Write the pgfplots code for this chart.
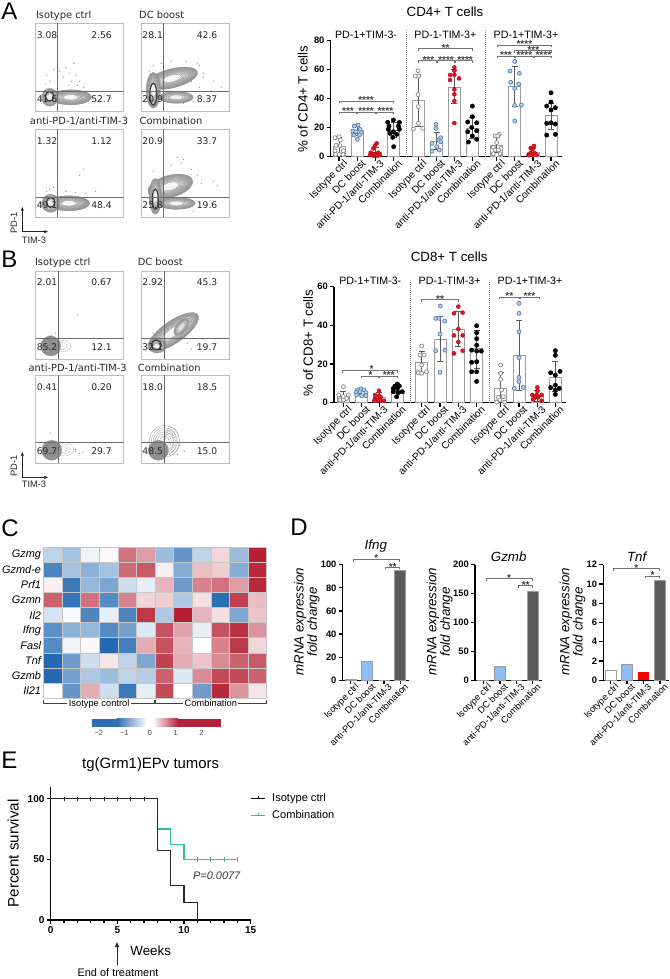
\documentclass[border=0pt]{standalone}
\usepackage{pgfplots}
\pgfplotsset{compat=1.18}
\usepackage{fontspec}
\setmainfont{Liberation Sans}
\newfontfamily\djv{DejaVu Sans}
\usetikzlibrary{arrows.meta}
\newcommand{\fs}[1]{\fontsize{#1}{#1}\selectfont}
\definecolor{isoE}{HTML}{8A8A8A}
\definecolor{dcF}{HTML}{B4CDEA}
\definecolor{dcE}{HTML}{5F83AD}
\definecolor{redF}{HTML}{E8101C}
\definecolor{barE}{HTML}{9C9C9C}
\definecolor{boxE}{HTML}{BDBDBD}
\definecolor{gateC}{HTML}{6A6A6A}
\definecolor{dBlue}{HTML}{8DBBF3}
\definecolor{dGrey}{HTML}{5A5A5A}
\definecolor{grn}{HTML}{2EC48F}
\definecolor{hB}{HTML}{2F6DB1}
\definecolor{hR}{HTML}{B2223A}
\pgfplotsset{
 every axis title shift=0pt,
 brk/.style={black!55,line width=.55pt,forget plot,sharp plot,mark=none},
 sep/.style={black!45,densely dotted,line width=.5pt,forget plot,sharp plot,mark=none},
 barp/.style={ybar,bar shift=0pt,draw=barE,fill=white,line width=.75pt,forget plot},
 errp/.style={forget plot,draw=none,mark=none,error bars/.cd,y dir=both,y explicit,
   error bar style={black!65,line width=.55pt},error mark options={rotate=90,mark size=2.2pt,black!65,line width=.55pt}},
 pIso/.style={only marks,forget plot,mark=*,mark size=1.5pt,mark options={fill=white,draw=isoE,line width=.55pt}},
 pDC/.style={only marks,forget plot,mark=*,mark size=1.5pt,mark options={fill=dcF,draw=dcE,line width=.55pt}},
 pRed/.style={only marks,forget plot,mark=*,mark size=1.5pt,mark options={fill=redF,draw=redF!70!black,line width=.3pt}},
 pBlk/.style={only marks,forget plot,mark=*,mark size=1.6pt,mark options={fill=black,draw=black}},
 baseax/.style={scale only axis,clip=false,axis x line=bottom,axis y line=left,
   axis line style={black,line width=1pt,-},tick align=outside,
   tick style={black,line width=1pt},major tick length=3pt,
   /pgf/number format/assume math mode=true,
   y tick label style={font=\bfseries\fs{7}\selectfont,inner sep=1.5pt},
   every axis y label/.style={rotate=90,anchor=center,font=\fs{10},align=center}},
 catx/.style={x tick label style={rotate=45,anchor=north east,inner sep=0pt,font=\fs{#1},xshift=3pt,yshift=-1pt}},
 facsax/.style={scale only axis,width=66pt,height=66pt,xmin=0,xmax=88,ymin=0,ymax=88,
   xtick=\empty,ytick=\empty,axis line style={boxE,line width=.6pt}},
 gate/.style={gateC,line width=.65pt,forget plot,sharp plot,mark=none},
 dots/.style={only marks,forget plot,mark=*,mark size=.17pt,black!50,mark options={draw=none,fill=black!50}},
}
\tikzset{
 star/.style={anchor=south,inner sep=0pt,font=\bfseries\fs{7.5},black!75,yshift=-2.2pt},
 num/.style={inner sep=0pt,font=\djv\fs{6.9},black!85},
 flab/.style={inner sep=0pt,font=\djv\fs{7.4},black!85},
 hdr/.style={inner sep=0pt,font=\fs{8}},
 let/.style={inner sep=0pt,anchor=west,font=\fs{18}},
}
\newcommand{\br}[6]{%
 \addplot[brk] coordinates {(#1,#4)(#1,#3)(#2,#3)(#2,#4)};
 \node[star] at (axis cs:#6,#3) {#5};}
% optional: grey level of the centre of the blob
\newcommand{\blob}[7][0]{%
 \pgfplotsextra{\foreach \i in {#7,...,1}{%
  \pgfmathsetmacro\g{#1+(38-#1)*\i/#7}%
  \draw[black!45,fill=black!\g,line width=.22pt,rotate around={#6:(axis cs:#2,#3)}] (axis cs:#2,#3) ellipse [x radius={#4*.75pt*(.3+.7*\i/#7)},y radius={#5*.75pt*(.3+.7*\i/#7)}];}}}
\newcommand{\ring}[5]{%
 \pgfplotsextra{\draw[black!80,line width=.8pt,rotate around={#5:(axis cs:#1,#2)}] (axis cs:#1,#2) ellipse [x radius={#3*.75pt},y radius={#4*.75pt}];}}
\newcommand{\facs}[9]{%
\begin{axis}[facsax,at={(#1*.75pt,{(979-#2-88)*.75pt})},anchor=south west]
 #9
 \addplot[gate] coordinates {(#3,0)(#3,88)};
 \addplot[gate] coordinates {(0,#4)(88,#4)};
 \node[num] at (axis cs:11.4,76.5) {#5};
 \node[num] at (axis cs:65.8,76.5) {#6};
 \node[num] at (axis cs:11.4,12) {#7};
 \node[num] at (axis cs:65.8,12) {#8};
\end{axis}}
\pgfplotsset{colormap={heat}{rgb255=(27,100,175) rgb255=(255,255,255) rgb255=(178,24,43)}}
\begin{document}
\begin{tikzpicture}
\path[use as bounding box] (0,0) rectangle (501.75pt,734.25pt);

%% ---------- Panel A flow
\facs{35.7}{23.3}{21.6}{20}{3.08}{2.56}{41.6}{52.7}{
 \addplot[dots] coordinates {(24,40)(30,44)(34,38)(36,30)(28,34)(38,48)(14,30)(11,36)(18,42)(44,30)(22,26)(10,27)(33,26)(42,26)(48,24)(40,36)};
 \blob{35}{14}{21}{7.5}{0}{12}\blob{14}{14}{8}{9}{0}{7}\ring{14}{15}{4.3}{4.8}{0}}
\facs{141.3}{23.3}{22}{20}{28.1}{42.6}{20.9}{8.37}{
 \addplot[dots] coordinates {(50,30)(58,24)(62,34)(72,30)(58,46)(45,50)(30,50)(42,8)(52,10)(66,12)(80,24)(12,46)(8,40)(20,48)(56,48)(62,38)};
 \blob{35}{14}{17}{6}{0}{7}\blob{31}{33}{26}{9.5}{14}{12}\blob{12}{21}{7}{18}{0}{10}\ring{12}{17}{3.5}{11}{0}}
\facs{35.7}{129.3}{21.6}{20.3}{1.32}{1.12}{49.1}{48.4}{
 \addplot[dots] coordinates {(48,48)(44,42)(22,34)(14,28)(60,26)(30,26)(18,30)(40,25)(50,24)(11,26)};
 \blob{33}{14}{21}{7.5}{0}{12}\blob{15}{14}{9}{9}{0}{7}\ring{15}{15}{4.3}{4.8}{0}}
\facs{141.3}{129.3}{22}{20.3}{20.9}{33.7}{25.8}{19.6}{
 \addplot[dots] coordinates {(30,52)(40,54)(50,48)(56,42)(60,34)(76,32)(72,36)(42,58)(22,50)(12,46)(46,30)(70,14)(52,6)(36,60)(22,72)};
 \blob{35}{14}{19}{6}{0}{9}\blob{29}{31}{23}{11}{15}{12}\blob{14}{21}{6}{18}{0}{10}\ring{14}{18}{3}{10}{0}}

%% ---------- Panel B flow
\facs{35.7}{271}{22.6}{21}{2.01}{0.67}{85.2}{12.1}{
 \addplot[dots] coordinates {(42,44)(16,24)(14,23)(20,26)};
 \pgfplotsextra{\draw[black!30,line width=.22pt] (axis cs:27,13) ellipse [x radius={8*.75pt},y radius={5.5*.75pt}];\draw[black!30,line width=.22pt] (axis cs:26,13) ellipse [x radius={5.5*.75pt},y radius={3.8*.75pt}];}
 \blob[45]{15}{13}{10}{10}{0}{12}}
\facs{141.3}{271}{23}{21}{2.92}{45.3}{32.1}{19.7}{
 \addplot[dots] coordinates {(50,10)(46,16)(56,14)(20,30)(12,26)};
 \blob{32}{27}{30}{11}{35}{10}\blob{40}{32}{10}{5}{50}{3}\blob{16}{13}{9}{7}{0}{7}\ring{15}{14}{5}{5}{0}}
\facs{35.7}{375.3}{22.6}{21}{0.41}{0.20}{69.7}{29.7}{
 \addplot[dots] coordinates {(40,12)(44,10)(47,11)(15,30)(40,14)};
 \pgfplotsextra{\draw[black!30,line width=.22pt] (axis cs:29,14) ellipse [x radius={9*.75pt},y radius={6.5*.75pt}];\draw[black!30,line width=.22pt] (axis cs:28,14) ellipse [x radius={6.5*.75pt},y radius={4.6*.75pt}];\draw[black!30,line width=.22pt] (axis cs:27,14) ellipse [x radius={4.5*.75pt},y radius={3.2*.75pt}];}
 \blob[45]{16}{13}{10}{10}{0}{12}}
\facs{141.3}{375.3}{23}{21}{18.0}{18.5}{48.5}{15.0}{
 \addplot[dots] coordinates {(43,12)(36,9)(38,18)};
 \pgfplotsextra{\draw[black!35,line width=.22pt] (axis cs:30,22) ellipse [x radius={8*.75pt},y radius={14*.75pt}];\draw[black!35,line width=.22pt] (axis cs:29,22) ellipse [x radius={6*.75pt},y radius={11*.75pt}];\draw[black!35,line width=.22pt] (axis cs:28,22) ellipse [x radius={4.5*.75pt},y radius={8*.75pt}];}
 \pgfplotsextra{\foreach \r in {5,7,9,11,13,15}{\draw[black!40,line width=.22pt] (axis cs:23,22) ellipse [x radius={\r*.75pt},y radius={\r*1.05*.75pt}];}}
 \blob[45]{17}{13}{10}{10}{0}{12}}

%% ---------- Panel A bars
\begin{axis}[baseax,catx=7.6,at={(330.7*.75pt,{(979-156.7)*.75pt})},anchor=south west,width=173.25pt,height=87pt,
 xmin=152,xmax=845,ymin=0,ymax=80,ytick={0,20,40,60,80},
 xtick={177,232,287,341,415,470,523,577,650,704,759,813},
 xticklabels={Isotype ctrl,DC boost,anti-PD-1/anti-TIM-3,Combination,Isotype ctrl,DC boost,anti-PD-1/anti-TIM-3,Combination,Isotype ctrl,DC boost,anti-PD-1/anti-TIM-3,Combination},
 ylabel={\% of CD4+ T cells},
 every axis y label/.append style={at={(axis description cs:-.12,.497)}},
 title={CD4+ T cells},title style={at={(axis description cs:.495,1.25)},anchor=center,font=\fs{10},inner sep=0pt}]
\addplot[barp,bar width=9pt] coordinates {(177,6.9)(232,17.9)(287,3)(341,18.4)(415,38.9)(470,10.8)(523,48)(577,19.5)(650,7.4)(704,48.7)(759,3)(813,28.7)};
\addplot[errp] coordinates {(177,6.9)+=(0,6.5)-=(0,6.9)(232,17.9)+=(0,3.5)-=(0,3.5)(287,3)+=(0,3.4)-=(0,3)(341,18.4)+=(0,5)-=(0,5)
 (415,38.9)+=(0,18)-=(0,18)(470,10.8)+=(0,6)-=(0,6)(523,48)+=(0,12)-=(0,11.5)(577,19.5)+=(0,7.5)-=(0,6.6)
 (650,7.4)+=(0,5.8)-=(0,4.4)(704,48.7)+=(0,13.8)-=(0,13.7)(759,3)+=(0,3)-=(0,3)(813,28.7)+=(0,8.3)-=(0,9.7)};
\addplot[pIso] coordinates {(165,13.1)(177,13.8)(181,11.5)(168,7.8)(180,7.6)(165,4.1)(190,4.1)(167,1.6)(178,1.6)(189,1.6)
 (414,59.3)(416,55.6)(406,55.6)(414,42.8)(415,34.5)(400,19.1)(415,23)(428,19.5)
 (657,15.4)(645,14.3)(653,14.3)(650,9.7)(640,6.4)(663,5.7)(645,4.6)(655,4.6)(640,2)(660,2)};
\addplot[pDC] coordinates {(223,21.1)(234,21.8)(240,18.9)(218,17.7)(228,17.2)(244,16.6)(222,14.9)(238,14.9)(232,12)
 (468,22.3)(468,19.5)(482,13.1)(476,11.5)(456,9.2)(482,10.3)(470,6.9)(456,3.9)(478,4.6)
 (704,65.7)(690,59.1)(718,57.5)(692,51.3)(716,50.1)(704,47.1)(704,35.4)(724,35.6)(704,24.6)};
\addplot[pRed] coordinates {(290,9.2)(285,7.6)(280,5.7)(272,2.8)(295,2.8)(280,1.8)(288,1.6)(300,1.1)(270,1.1)(280,.7)(292,.7)
 (523,61.6)(523,59.3)(510,56.3)(510,52.9)(523,56.5)(537,54)(523,46.4)(523,43)(523,38.4)(523,23.2)
 (762,7.4)(752,6)(758,5.3)(752,2.8)(765,2.3)(745,1.2)(755,1.2)(770,1.2)(748,1)};
\addplot[pBlk] coordinates {(323,23.7)(340,25.3)(358,23.7)(327,21.1)(355,21.1)(325,18.9)(358,18.9)(340,17.2)(330,16.1)(350,15.4)(338,13.3)(341,6.9)
 (577,34.9)(577,27.6)(590,23.4)(563,23.9)(575,20.2)(590,17.9)(563,17.2)(577,14.3)(590,12)(565,10.1)
 (813,44.1)(813,37.7)(800,34.9)(826,33.8)(813,32.2)(800,23)(826,22.5)(813,23.4)(800,14.9)(826,15.4)};
\addplot[sep] coordinates {(378,0)(378,87.4)};
\addplot[sep] coordinates {(616,0)(616,87.4)};
\node[hdr] at (axis cs:258,83.9) {PD-1+TIM-3-};
\node[hdr] at (axis cs:496,83.9) {PD-1-TIM-3+};
\node[hdr] at (axis cs:738,83.9) {PD-1+TIM-3+};
\br{177}{340}{38.4}{36.8}{****}{258}
\br{177}{229}{30.6}{29.2}{***}{204}
\br{233}{287}{30.6}{29.2}{****}{258}
\br{290}{340}{30.6}{29.2}{****}{316}
\br{415}{578}{74.7}{73.1}{**}{497}
\br{415}{470}{66.2}{64.8}{***}{445}
\br{472}{522}{66.2}{64.8}{****}{498}
\br{526}{578}{66.2}{64.8}{****}{555}
\br{652}{814}{77}{75.4}{****}{733}
\br{704}{814}{73.1}{71.7}{***}{760}
\br{652}{703}{69.4}{67.8}{***}{678}
\br{706}{760}{69.4}{67.8}{****}{733}
\br{763}{814}{69.4}{67.8}{****}{790}
\end{axis}

%% ---------- Panel B bars
\begin{axis}[baseax,catx=7.6,at={(334*.75pt,{(979-402.7)*.75pt})},anchor=south west,width=173.75pt,height=87pt,
 xmin=162,xmax=857,ymin=0,ymax=60,ytick={0,20,40,60},
 xtick={190,245,298,352,425,480,535,590,662,717,772,826},
 xticklabels={Isotype ctrl,DC boost,anti-PD-1/anti-TIM-3,Combination,Isotype ctrl,DC boost,anti-PD-1/anti-TIM-3,Combination,Isotype ctrl,DC boost,anti-PD-1/anti-TIM-3,Combination},
 ylabel={\% of CD8+ T cells},
 every axis y label/.append style={at={(axis description cs:-.112,.515)}},
 title={CD8+ T cells},title style={at={(axis description cs:.497,1.254)},anchor=center,font=\fs{10},inner sep=0pt}]
\addplot[barp,bar width=9pt] coordinates {(190,3.4)(245,5.7)(298,2.8)(352,6.4)(425,21)(480,32.9)(535,37.9)(590,27.8)(662,7.4)(717,24.5)(772,3.6)(826,13.1)};
\addplot[errp] coordinates {(190,3.4)+=(0,2.3)-=(0,2.3)(245,5.7)+=(0,1.2)-=(0,1.2)(298,2.8)+=(0,2.4)-=(0,2.4)(352,6.4)+=(0,1.8)-=(0,1.8)
 (425,21)+=(0,5.4)-=(0,5.4)(480,32.9)+=(0,11.8)-=(0,11.5)(535,37.9)+=(0,9.1)-=(0,8.6)(590,27.8)+=(0,9.8)-=(0,10)
 (662,7.4)+=(0,8.3)-=(0,7.4)(717,24.5)+=(0,18.3)-=(0,17.9)(772,3.6)+=(0,2.9)-=(0,2.9)(826,13.1)+=(0,8.1)-=(0,7.4)};
\addplot[pIso] coordinates {(190,8.3)(176,4)(205,4)(190,3.1)(178,2.2)(200,2.2)(190,1.4)(180,1.4)
 (425,29.3)(420,24.7)(432,24.7)(425,19.5)(412,16)(440,16)(415,15.5)(425,15.2)
 (662,19.5)(662,15.2)(662,12)(665,6.6)(670,3.1)(655,2.8)(660,1.4)(650,.3)(674,.3)};
\addplot[pDC] coordinates {(243,7.2)(232,6.6)(252,6.6)(228,5.3)(240,5.7)(258,5.2)(230,4)(245,3.6)(258,3.6)
 (481,50)(467,43.6)(477,43.6)(494,42.2)(480,35.5)(467,26.9)(495,27.2)(480,15.7)
 (717,51.4)(717,46.2)(717,36.7)(717,23.3)(717,13.1)(717,10.9)(703,7.4)(730,7.9)};
\addplot[pRed] coordinates {(297,6.2)(285,4)(297,3.6)(302,2.8)(285,2.2)(293,1.4)(283,1)(300,1)(312,1)
 (535,49.7)(522,46.2)(548,46.6)(535,38.1)(548,34.8)(522,34.8)(535,31.4)(522,25.5)(548,26.9)
 (772,7.9)(772,6)(757,4)(770,4)(785,4)(765,2.8)(775,2.8)(760,1.7)(785,1)};
\addplot[pBlk] coordinates {(352,9.7)(345,8.6)(358,8.6)(340,7.4)(352,7.4)(367,5.7)(340,5.7)(355,5.2)(350,3.1)
 (590,39.8)(590,36.2)(590,33.1)(590,29.7)(575,27.2)(590,26.7)(604,26.7)(590,21.2)(575,20.9)(590,16)(575,16)(590,11)
 (826,26.9)(826,24.5)(812,15.5)(840,16.2)(826,14.3)(812,7.8)(838,7.4)(826,6.6)(826,4.3)(826,9.1)};
\addplot[sep] coordinates {(391,0)(391,63)};
\addplot[sep] coordinates {(628,0)(628,63)};
\node[hdr] at (axis cs:271,63.1) {PD-1+TIM-3-};
\node[hdr] at (axis cs:509,63.1) {PD-1-TIM-3+};
\node[hdr] at (axis cs:750,63.1) {PD-1+TIM-3+};
\br{188}{352}{16.9}{15.5}{*}{275}
\br{243}{296}{13.8}{12.6}{*}{272}
\br{298}{352}{13.8}{12.6}{***}{326}
\br{425}{535}{53.4}{52.2}{**}{480}
\br{658}{717}{54.5}{53.4}{**}{688}
\br{722}{778}{54.5}{53.4}{***}{748}
\end{axis}

%% ---------- Panel C heat map
\begin{axis}[scale only axis,at={(43.3*.75pt,{(979-698)*.75pt})},anchor=south west,width=167.55pt,height=113pt,
 clip=false,xmin=-.5,xmax=11.5,ymin=-.5,ymax=9.5,y dir=reverse,colormap name=heat,point meta min=-2.8,point meta max=2.8,
 xtick=\empty,ytick={0,...,9},yticklabels={Gzmg,Gzmd-e,Prf1,Gzmn,Il2,Ifng,Fasl,Tnf,Gzmb,Il21},
 y tick label style={font=\itshape\fs{8.2},inner sep=1.5pt},major tick length=0pt,axis line style={draw=none},
 /pgf/number format/assume math mode=true]
\addplot[matrix plot*,mesh/cols=12,point meta=explicit,forget plot] coordinates {
(0,0)[-.8](1,0)[-1.1](2,0)[-.2](3,0)[.1](4,0)[1.7](5,0)[1.2](6,0)[-1.2](7,0)[-1.9](8,0)[-.8](9,0)[.5](10,0)[-1.2](11,0)[2.7]
(0,1)[-2.2](1,1)[-1.1](2,1)[-1.4](3,1)[-1.1](4,1)[1.8](5,1)[2](6,1)[.2](7,1)[-1.5](8,1)[.8](9,1)[.6](10,1)[-1.5](11,1)[2.6]
(0,2)[.2](1,2)[-2.4](2,2)[-1.3](3,2)[-1.6](4,2)[-.6](5,2)[-.3](6,2)[.9](7,2)[-1.8](8,2)[1.5](9,2)[1.7](10,2)[1.2](11,2)[2.6]
(0,3)[1.9](1,3)[-2.5](2,3)[1.7](3,3)[-2.1](4,3)[1.5](5,3)[.5](6,3)[.6](7,3)[-1](8,3)[.4](9,3)[-2.6](10,3)[2.3](11,3)[.8]
(0,4)[-.5](1,4)[-.1](2,4)[-2.2](3,4)[-.3](4,4)[-2.2](5,4)[2.4](6,4)[-1](7,4)[2.7](8,4)[.9](9,4)[.4](10,4)[-1.6](11,4)[.7]
(0,5)[-2](1,5)[-1.4](2,5)[-1.3](3,5)[-2.1](4,5)[-1.7](5,5)[-.4](6,5)[2.1](7,5)[1.1](8,5)[-.3](9,5)[2.1](10,5)[2.5](11,5)[1.3]
(0,6)[-2.1](1,6)[-.2](2,6)[.1](3,6)[-2.7](4,6)[-2.3](5,6)[1](6,6)[2.1](7,6)[.9](8,6)[0](9,6)[1.5](10,6)[2.4](11,6)[.5]
(0,7)[-2.7](1,7)[-1.8](2,7)[-.6](3,7)[.3](4,7)[-.8](5,7)[-1.6](6,7)[2.3](7,7)[1](8,7)[.7](9,7)[1.4](10,7)[1.9](11,7)[2]
(0,8)[-2.7](1,8)[-1.7](2,8)[-1](3,8)[-1.2](4,8)[-.8](5,8)[-.9](6,8)[1.9](7,8)[-.4](8,8)[1.4](9,8)[2.2](10,8)[2.2](11,8)[1.9]
(0,9)[0](1,9)[-1.9](2,9)[1](3,9)[-.6](4,9)[-2.4](5,9)[-.3](6,9)[2.2](7,9)[0](8,9)[-1.8](9,9)[2.6](10,9)[1.3](11,9)[.3]};
\pgfplotsextra{
 \foreach \k in {-.5,.5,...,11.5}{\draw[black!22,line width=.4pt] (axis cs:\k,-.5) -- (axis cs:\k,9.5);}
 \foreach \k in {-.5,.5,...,9.5}{\draw[black!22,line width=.4pt] (axis cs:-.5,\k) -- (axis cs:11.5,\k);}}
\addplot[black!75,line width=.5pt,forget plot,sharp plot] coordinates {(-.5,9.6)(-.5,9.85)(5.47,9.85)(5.47,9.6)};
\addplot[black!75,line width=.5pt,forget plot,sharp plot] coordinates {(5.53,9.6)(5.53,9.85)(11.5,9.85)(11.5,9.6)};
\node[fill=white,inner sep=1pt,font=\fs{7},text height=5pt,text depth=1pt] at (axis cs:2.5,9.92) {Isotype control};
\node[fill=white,inner sep=1pt,font=\fs{7},text height=5pt,text depth=1pt] at (axis cs:8.5,9.92) {Combination};
\end{axis}

%% ---------- colour key
\begin{axis}[scale only axis,at={(92.3*.75pt,{(979-726.7)*.75pt})},anchor=south west,width=96.75pt,height=5.8pt,
 clip=false,xmin=-2.25,xmax=2.78,ymin=0,ymax=1,axis y line=none,axis x line=bottom,axis line style={draw=none},
 xtick={-2,-1,0,1,2},xticklabels={−2,−1,0,1,2},major tick length=0pt,
 x tick label style={font=\fs{5.5},black!75,inner sep=1pt,yshift=-1.5pt},/pgf/number format/assume math mode=true]
\pgfplotsextra{
\fill[hB] (axis cs:-2.25,0) rectangle (axis cs:-1.3,1);
\fill[left color=hB,right color=white] (axis cs:-1.3,0) rectangle (axis cs:-.12,1);
\fill[left color=white,right color=hR] (axis cs:.1,0) rectangle (axis cs:1.1,1);
\fill[hR] (axis cs:1.1,0) rectangle (axis cs:2.78,1);}
\end{axis}

%% ---------- Panel D
\begin{axis}[baseax,catx=6.9,at={(342.7*.75pt,{(979-680.3)*.75pt})},anchor=south west,width=49.75pt,height=86.7pt,
 xmin=218,xmax=417,ymin=0,ymax=100,ytick={0,20,40,60,80,100},xtick={242,292,342,391},
 xticklabels={Isotype ctrl,DC boost,anti-PD-1/anti-TIM-3,Combination},
 ylabel={\itshape mRNA expression\\\itshape fold change},
 every axis y label/.append style={at={(axis description cs:-.54,.507)}},
 title={Ifng},title style={at={(axis description cs:.5,1.162)},anchor=center,font=\itshape\fs{10},inner sep=0pt}]
\addplot[ybar,bar shift=0pt,bar width=8.25pt,draw=barE,fill=white,line width=.7pt,forget plot] coordinates {(242,1)};
\addplot[ybar,bar shift=0pt,bar width=8.25pt,draw=barE,fill=dBlue,line width=.7pt,forget plot] coordinates {(292,16.5)};
\addplot[ybar,bar shift=0pt,bar width=8.25pt,draw=barE,fill=redF,line width=.7pt,forget plot] coordinates {(342,0)};
\addplot[ybar,bar shift=0pt,bar width=8.25pt,draw=barE,fill=dGrey,line width=.7pt,forget plot] coordinates {(391,95)};
\br{250}{388}{104.9}{102}{*}{319}
\br{347}{388}{97.7}{96}{**}{368}
\end{axis}
\begin{axis}[baseax,catx=6.9,at={(475*.75pt,{(979-680.3)*.75pt})},anchor=south west,width=50pt,height=86.7pt,
 xmin=615,xmax=815,ymin=0,ymax=200,ytick={0,50,100,150,200},xtick={640,690,740,788},
 xticklabels={Isotype ctrl,DC boost,anti-PD-1/anti-TIM-3,Combination},
 ylabel={\itshape mRNA expression\\\itshape fold change},
 every axis y label/.append style={at={(axis description cs:-.53,.507)}},
 title={Gzmb},title style={at={(axis description cs:.505,1.066)},anchor=center,font=\itshape\fs{10},inner sep=0pt}]
\addplot[ybar,bar shift=0pt,bar width=8.25pt,draw=barE,fill=white,line width=.7pt,forget plot] coordinates {(640,.5)};
\addplot[ybar,bar shift=0pt,bar width=8.25pt,draw=barE,fill=dBlue,line width=.7pt,forget plot] coordinates {(690,24.5)};
\addplot[ybar,bar shift=0pt,bar width=8.25pt,draw=barE,fill=redF,line width=.7pt,forget plot] coordinates {(740,0)};
\addplot[ybar,bar shift=0pt,bar width=8.25pt,draw=barE,fill=dGrey,line width=.7pt,forget plot] coordinates {(788,153)};
\br{648}{787}{176.4}{172.3}{*}{717}
\br{745}{787}{163.7}{159.7}{**}{767}
\end{axis}
\begin{axis}[baseax,catx=6.9,at={(603.3*.75pt,{(979-680.3)*.75pt})},anchor=south west,width=49.5pt,height=86.7pt,
 xmin=1000,xmax=1198,ymin=0,ymax=12,ytick={0,2,4,6,8,10,12},xtick={1022,1071,1121,1170},
 xticklabels={Isotype ctrl,DC boost,anti-PD-1/anti-TIM-3,Combination},
 ylabel={\itshape mRNA expression\\\itshape fold change},
 every axis y label/.append style={at={(axis description cs:-.465,.507)}},
 title={Tnf},title style={at={(axis description cs:.505,1.066)},anchor=center,font=\itshape\fs{10},inner sep=0pt}]
\addplot[ybar,bar shift=0pt,bar width=8.25pt,draw=barE,fill=white,line width=.7pt,forget plot] coordinates {(1022,1)};
\addplot[ybar,bar shift=0pt,bar width=8.25pt,draw=barE,fill=dBlue,line width=.7pt,forget plot] coordinates {(1071,1.6)};
\addplot[ybar,bar shift=0pt,bar width=8.25pt,draw=none,fill=red,forget plot] coordinates {(1121,.85)};
\addplot[ybar,bar shift=0pt,bar width=8.25pt,draw=barE,fill=dGrey,line width=.7pt,forget plot] coordinates {(1170,10.4)};
\br{1030}{1168}{11.6}{11.35}{*}{1099}
\br{1127}{1168}{10.83}{10.62}{*}{1148}
\end{axis}

%% ---------- Panel E
\begin{axis}[baseax,at={(50.7*.75pt,{(979-920)*.75pt})},anchor=south west,width=150pt,height=100pt,
 xmin=0,xmax=15,ymin=0,ymax=110,xtick={0,5,10,15},ytick={0,50,100},minor x tick num=4,minor tick length=2pt,
 x tick label style={anchor=north,font=\bfseries\fs{7.5},inner sep=1.5pt},
 y tick label style={font=\bfseries\fs{7.5}},
 ylabel={Percent survival},
 every axis y label/.append style={at={(axis description cs:-.187,.5)},font=\fs{11.4}},
 xlabel={Weeks},
 every axis x label/.style={at={(axis description cs:.5,-.227)},anchor=center,font=\fs{10}},
 title={tg(Grm1)EPv tumors},title style={at={(axis description cs:.5,1.163)},anchor=center,font=\fs{11.2},inner sep=0pt},
 legend style={at={(axis description cs:.997,.97)},anchor=north west,draw=none,fill=none,font=\fs{8.3},row sep=1.2pt,inner sep=0pt},
 legend cell align=left,
 legend image code/.code={\draw[#1,line width=.9pt] (0pt,0pt)--(10.5pt,0pt);\draw[#1,line width=.5pt] (5.25pt,0pt)--(5.25pt,1.8pt);},
 ]
\addlegendimage{black}
\addlegendentry{\hspace{3pt}Isotype ctrl}
\addlegendimage{grn}
\addlegendentry{\hspace{3pt}Combination}
\addplot[grn,line width=.9pt,forget plot,sharp plot] coordinates {(0,100)(8,100)(8,75)(9,75)(9,62.5)(10,62.5)(10,50)(14,50)};
\addplot[only marks,grn,mark=|,mark size=1.6pt,mark options={line width=.7pt},forget plot] coordinates {(11,50)(12,50)(13,50)(14,50)};
\addplot[black!85,line width=.9pt,forget plot,sharp plot] coordinates {(0,100)(8,100)(8,57.1)(9,57.1)(9,28.6)(10,28.6)(10,14.3)(11,14.3)(11,0)};
\addplot[only marks,black!85,mark=|,mark size=1.6pt,mark options={line width=.7pt},forget plot] coordinates {(1,100)(2,100)(3,100)(4,100)(5,100)(6,100)(7,100)};
\node[inner sep=0pt,font=\itshape\fs{8.2},black!80] at (axis cs:12.45,36.5) {P=0.0077};
\addplot[black!85,line width=.6pt,-{Latex[length=4pt,width=3.5pt]},forget plot,sharp plot] coordinates {(4.97,-37.2)(4.97,-17.9)};
\node[inner sep=0pt,font=\fs{8.2}] at (axis cs:5.05,-43.5) {End of treatment};
\end{axis}

%% ---------- free text in picture pixels
\begin{scope}[x=.75pt,y=-.75pt,yshift=734.25pt]
\node[let] at (1,11) {A};
\node[let] at (1,259) {B};
\node[let] at (1,528) {C};
\node[let] at (290,527) {D};
\node[let] at (1,760) {E};
\node[flab] at (63.7,15.7) {Isotype ctrl};
\node[flab] at (161.7,14.7) {DC boost};
\node[flab] at (79,121) {anti-PD-1/anti-TIM-3};
\node[flab] at (171,121) {Combination};
\node[flab] at (62.7,262.7) {Isotype ctrl};
\node[flab] at (160.3,262) {DC boost};
\node[flab] at (77.7,368) {anti-PD-1/anti-TIM-3};
\node[flab] at (169.3,368) {Combination};
\draw[black!85,line width=.5pt,-{Latex[length=3pt,width=2.5pt]}] (22.3,231.7) -- (22.3,206.7);
\draw[black!85,line width=.5pt,-{Latex[length=3pt,width=2.5pt]}] (22.3,231.7) -- (48.3,231.7);
\node[flab,rotate=90,font=\fs{7}] at (14,223.3) {PD-1};
\node[flab,font=\fs{7}] at (34,240) {TIM-3};
\draw[black!85,line width=.5pt,-{Latex[length=3pt,width=2.5pt]}] (22.3,477.3) -- (22.3,451.7);
\draw[black!85,line width=.5pt,-{Latex[length=3pt,width=2.5pt]}] (22.3,477.3) -- (48.3,477.3);
\node[flab,rotate=90,font=\fs{7}] at (14,466) {PD-1};
\node[flab,font=\fs{7}] at (34,484.7) {TIM-3};
\end{scope}
\end{tikzpicture}
\end{document}
